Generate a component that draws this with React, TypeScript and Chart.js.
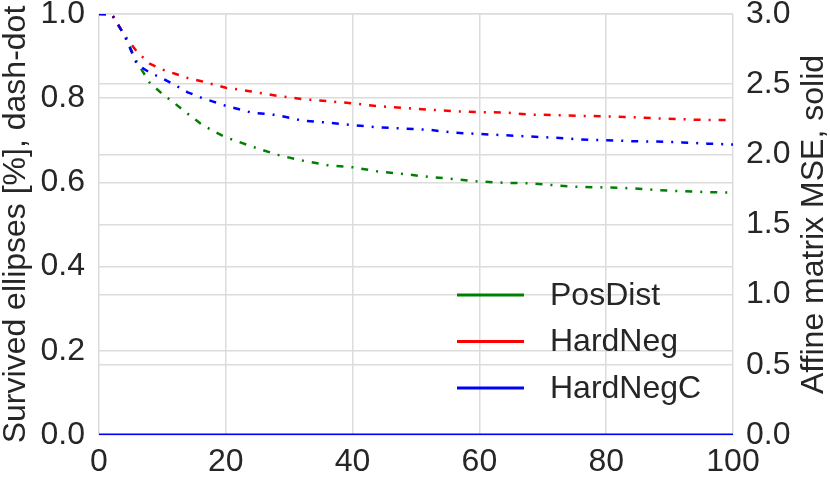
import React, { useEffect, useRef } from 'react';
import { Chart, registerables, Plugin } from 'chart.js';

Chart.register(...registerables);

// training epochs where survival was sampled
const epochs = [0, 2, 4, 6, 8, 10, 12, 14, 16, 18, 20, 24, 28, 32, 36, 40, 44, 48, 52, 56, 60, 64, 68, 72, 76, 80, 84, 88, 92, 96, 100];

// survived ellipses fraction (left axis, dash-dot)
const posDistSurvived = [1.0, 1.0, 0.95, 0.885, 0.837, 0.81, 0.787, 0.763, 0.74, 0.722, 0.707, 0.686, 0.666, 0.652, 0.641, 0.636, 0.626, 0.62, 0.613, 0.608, 0.602, 0.599, 0.598, 0.593, 0.589, 0.588, 0.586, 0.582, 0.579, 0.577, 0.576];
const hardNegSurvived = [1.0, 1.0, 0.95, 0.91, 0.882, 0.868, 0.858, 0.848, 0.841, 0.833, 0.825, 0.816, 0.806, 0.798, 0.793, 0.788, 0.781, 0.777, 0.773, 0.769, 0.767, 0.766, 0.761, 0.76, 0.758, 0.757, 0.755, 0.752, 0.75, 0.748, 0.748];
const hardNegCSurvived = [1.0, 0.999, 0.95, 0.88, 0.861, 0.847, 0.831, 0.814, 0.802, 0.792, 0.782, 0.766, 0.76, 0.747, 0.742, 0.736, 0.731, 0.728, 0.725, 0.718, 0.715, 0.712, 0.709, 0.706, 0.702, 0.7, 0.698, 0.697, 0.695, 0.692, 0.69];

// affine matrix MSE (right axis, solid)
const mseEpochs = [0, 20, 40, 60, 80, 100];
const posDistMse = [0, 0, 0, 0, 0, 0];
const hardNegMse = [0, 0, 0, 0, 0, 0];
const hardNegCMse = [0, 0, 0, 0, 0, 0];

const xTicks = [0, 20, 40, 60, 80, 100];
const rightTitle = 'Affine matrix MSE, solid';

const TEXT = '#262626';
const GRID = '#dcdcdc';
const FONT = "'Liberation Sans', Arial, sans-serif";
const SIZE = 32;
const DASH_DOT = [7, 8, 2, 8];

const pairs = (xs: number[], ys: number[]) => xs.map((x, i) => ({ x, y: ys[i] }));

// legend drawn inside the plot, lower right, only for the solid series
const innerLegend: Plugin = {
  id: 'innerLegend',
  afterDatasetsDraw(chart) {
    const { ctx, chartArea } = chart;
    const items = chart.data.datasets.filter((d: any) => d.label);
    ctx.save();
    ctx.font = `${SIZE}px ${FONT}`;
    ctx.textBaseline = 'middle';
    ctx.textAlign = 'left';
    items.forEach((d: any, i) => {
      const y = chartArea.bottom - 140 + i * 46.5;
      ctx.strokeStyle = d.borderColor;
      ctx.lineWidth = 3;
      ctx.beginPath();
      ctx.moveTo(chartArea.right - 276, y);
      ctx.lineTo(chartArea.right - 209, y);
      ctx.stroke();
      ctx.fillStyle = TEXT;
      ctx.fillText(d.label, chartArea.right - 183, y + 1);
    });
    ctx.restore();
  },
};

// right axis title reads bottom-to-top like the left one
const rightAxisTitle: Plugin = {
  id: 'rightAxisTitle',
  afterDraw(chart) {
    const { ctx, chartArea, width } = chart;
    ctx.save();
    ctx.translate(width - SIZE / 2, (chartArea.top + chartArea.bottom) / 2);
    ctx.rotate(-Math.PI / 2);
    ctx.font = `${SIZE}px ${FONT}`;
    ctx.fillStyle = TEXT;
    ctx.textAlign = 'center';
    ctx.textBaseline = 'middle';
    ctx.fillText(rightTitle, 0, 0);
    ctx.restore();
  },
};

const App: React.FC = () => {
  const canvasRef = useRef<HTMLCanvasElement>(null);
  const chartRef = useRef<Chart | null>(null);

  useEffect(() => {
    if (!canvasRef.current) return;
    if (chartRef.current) chartRef.current.destroy();

    const dashed = (data: number[], color: string, order: number) => ({
      data: pairs(epochs, data),
      borderColor: color,
      borderWidth: 2.5,
      borderDash: DASH_DOT,
      pointRadius: 0,
      yAxisID: 'y',
      fill: false,
      order,
    });
    const solid = (label: string, data: number[], color: string, order: number) => ({
      label,
      data: pairs(mseEpochs, data),
      borderColor: color,
      borderWidth: 2.5,
      pointRadius: 0,
      yAxisID: 'y1',
      fill: false,
      order,
    });

    const tickFont = { size: SIZE, family: FONT };

    chartRef.current = new Chart(canvasRef.current, {
      type: 'line',
      data: {
        datasets: [
          dashed(posDistSurvived, '#008000', 5),
          dashed(hardNegSurvived, '#ff0000', 4),
          dashed(hardNegCSurvived, '#0000ff', 3),
          solid('PosDist', posDistMse, '#008000', 2),
          solid('HardNeg', hardNegMse, '#ff0000', 1),
          solid('HardNegC', hardNegCMse, '#0000ff', 0),
        ] as any,
      },
      options: {
        animation: false,
        responsive: true,
        maintainAspectRatio: false,
        layout: { padding: 0 },
        plugins: {
          legend: { display: false },
          tooltip: { enabled: false },
        },
        scales: {
          x: {
            type: 'linear',
            min: 0,
            max: 100,
            afterBuildTicks: (axis: any) => {
              axis.ticks = xTicks.map(v => ({ value: v }));
            },
            afterFit: (axis: any) => {
              axis.height = 44;
            },
            grid: { color: GRID, lineWidth: 1.5, drawTicks: false },
            border: { display: false },
            ticks: {
              color: TEXT,
              font: tickFont,
              padding: 8,
              maxRotation: 0,
            },
          },
          y: {
            position: 'left',
            min: 0,
            max: 1,
            afterFit: (axis: any) => {
              axis.width = 99;
              axis.paddingTop = 14;
              axis.paddingBottom = 0;
            },
            grid: { color: GRID, lineWidth: 1.5, drawTicks: false },
            border: { display: false },
            ticks: {
              stepSize: 0.2,
              color: TEXT,
              font: tickFont,
              padding: 14,
              callback: (v: any) => Number(v).toFixed(1),
            },
            title: {
              display: true,
              text: 'Survived ellipses [%], dash-dot',
              color: TEXT,
              font: { size: SIZE, family: FONT, lineHeight: 1 },
              padding: 0,
            },
          },
          y1: {
            position: 'right',
            min: 0,
            max: 3,
            afterFit: (axis: any) => {
              axis.width = 97;
              axis.paddingTop = 14;
              axis.paddingBottom = 0;
            },
            grid: { color: GRID, lineWidth: 1.5, drawTicks: false },
            border: { display: false },
            ticks: {
              stepSize: 0.5,
              color: TEXT,
              font: tickFont,
              padding: 13,
              callback: (v: any) => Number(v).toFixed(1),
            },
          },
        },
      },
      plugins: [innerLegend, rightAxisTitle],
    });

    return () => {
      if (chartRef.current) {
        chartRef.current.destroy();
        chartRef.current = null;
      }
    };
  }, []);

  return (
    <div style={{ position: 'fixed', left: 0, top: 0, width: 830, height: 479, background: '#fff' }}>
      <canvas ref={canvasRef}></canvas>
    </div>
  );
};

export default App;
